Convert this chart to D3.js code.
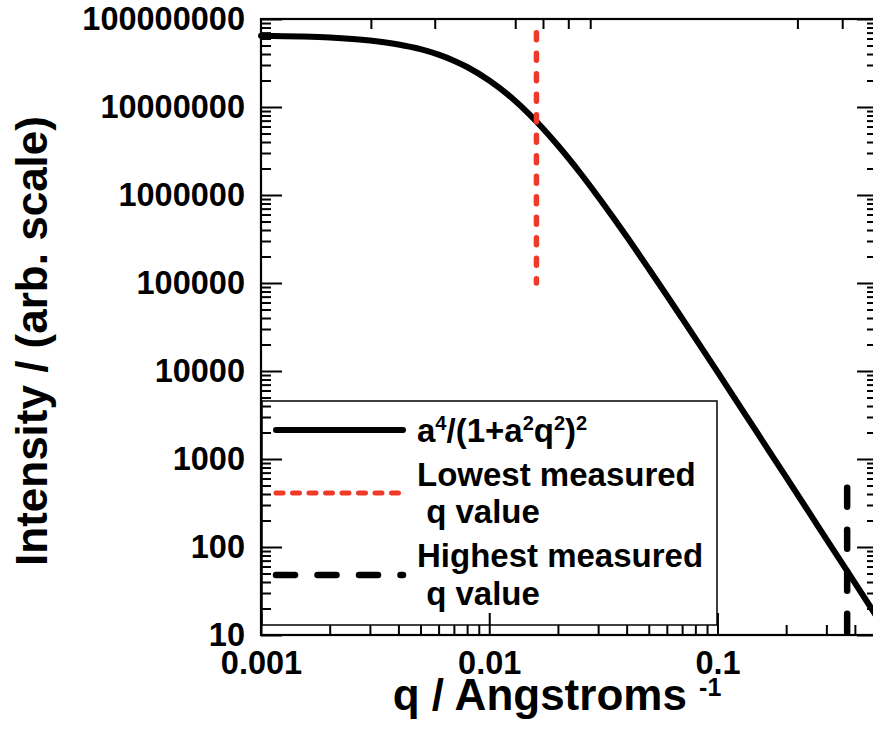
<!DOCTYPE html>
<html><head><meta charset="utf-8">
<script src="https://cdn.jsdelivr.net/npm/d3@7"></script>
<style>
body{margin:0;background:#fff}
text{font-family:"Liberation Sans",Arial,Helvetica,sans-serif;font-weight:bold;fill:#000}
</style>
</head><body>
<svg id="chart" width="873" height="736"></svg>
<script>
// ---- data ----
const qValues = [0.001, 0.0015, 0.002, 0.003, 0.004, 0.005, 0.006, 0.007, 0.008, 0.01, 0.012, 0.0125, 0.015, 0.02, 0.025, 0.03, 0.035, 0.04, 0.05, 0.06, 0.07, 0.08, 0.1, 0.12, 0.15, 0.2, 0.25, 0.3, 0.4, 0.5];
const intensityValues = [6.46e7, 6.33e7, 6.16e7, 5.70e7, 5.14e7, 4.54e7, 3.93e7, 3.36e7, 2.85e7, 2.00e7, 1.40e7, 1.28e7, 8.24e6, 3.65e6, 1.79e6, 9.55e5, 5.50e5, 3.37e5, 1.45e5, 7.21e4, 3.96e4, 2.35e4, 9760, 4740, 1950, 621, 255, 123, 39, 16];
const xMajorTicks = [0.001, 0.01, 0.1];
const xTickLabels = ["0.001", "0.01", "0.1"];
const yMajorTicks = [10, 100, 1000, 10000, 100000, 1000000, 10000000, 100000000];
const yTickLabels = ["10", "100", "1000", "10000", "100000", "1000000", "10000000", "100000000"];
const topTickValues = [0.00303, 0.00577, 0.0130, 0.0172, 0.0222, 0.0277, 0.224, 0.352];
const lowestQ = 0.0161;
const lowestRange = [1e5, 7e7];
const highestQ = 0.37;
const highestRange = [10, 470];
const xDomain = [0.001, 0.5];
const yDomain = [10, 1e8];

// ---- layout ----
const L = 261, R = 877, T = 19, B = 635;
const red = "#ef3a2a";
const svg = d3.select("#chart");
const x = d3.scaleLog().domain(xDomain).range([L, R]);
const y = d3.scaleLog().domain(yDomain).range([B, T]);

svg.append("defs").append("clipPath").attr("id", "clip")
  .append("rect").attr("x", L - 3).attr("y", T).attr("width", R - L + 3).attr("height", B - T);

// legend box (drawn first, axes ticks overlay it)
const lg = svg.append("g");
lg.append("rect").attr("x", 262).attr("y", 401).attr("width", 455).attr("height", 224)
  .attr("fill", "#fff").attr("stroke", "#000").attr("stroke-width", 1.5);

// curve
const line = d3.line().x((d, i) => x(qValues[i])).y(d => y(d)).curve(d3.curveMonotoneX);
svg.append("path").datum(intensityValues).attr("d", line)
  .attr("clip-path", "url(#clip)")
  .attr("fill", "none").attr("stroke", "#000").attr("stroke-width", 6).attr("stroke-linecap", "round");

// vertical markers
svg.append("line").attr("x1", x(lowestQ)).attr("x2", x(lowestQ))
  .attr("y1", y(lowestRange[1])).attr("y2", y(lowestRange[0]))
  .attr("stroke", red).attr("stroke-width", 5.5).attr("stroke-linecap", "round")
  .attr("stroke-dasharray", "7 13.5");
svg.append("line").attr("x1", x(highestQ)).attr("x2", x(highestQ))
  .attr("y1", y(highestRange[1])).attr("y2", y(highestRange[0]))
  .attr("stroke", "#000").attr("stroke-width", 6.5).attr("stroke-linecap", "round")
  .attr("stroke-dasharray", "19 23");

// legend contents
lg.append("line").attr("x1", 276).attr("x2", 403).attr("y1", 430).attr("y2", 430)
  .attr("stroke", "#000").attr("stroke-width", 6).attr("stroke-linecap", "round");
lg.append("line").attr("x1", 276).attr("x2", 403).attr("y1", 493).attr("y2", 493)
  .attr("stroke", red).attr("stroke-width", 5).attr("stroke-linecap", "round")
  .attr("stroke-dasharray", "7 9.5");
lg.append("line").attr("x1", 276).attr("x2", 403).attr("y1", 575).attr("y2", 575)
  .attr("stroke", "#000").attr("stroke-width", 6.5).attr("stroke-linecap", "round")
  .attr("stroke-dasharray", "19 22.5");

const fs = 33;
const t1 = lg.append("text").attr("x", 417).attr("y", 442).style("font-size", fs + "px");
t1.append("tspan").text("a");
t1.append("tspan").attr("dy", -12).style("font-size", "20px").text("4");
t1.append("tspan").attr("dy", 12).text("/(1+a");
t1.append("tspan").attr("dy", -12).style("font-size", "20px").text("2");
t1.append("tspan").attr("dy", 12).text("q");
t1.append("tspan").attr("dy", -12).style("font-size", "20px").text("2");
t1.append("tspan").attr("dy", 12).text(")");
t1.append("tspan").attr("dy", -12).style("font-size", "20px").text("2");
lg.append("text").attr("x", 417).attr("y", 486).style("font-size", fs + "px").text("Lowest measured");
lg.append("text").attr("x", 417).attr("y", 523).style("font-size", fs + "px").attr("xml:space", "preserve").text(" q value");
lg.append("text").attr("x", 417).attr("y", 567).style("font-size", fs + "px").text("Highest measured");
lg.append("text").attr("x", 417).attr("y", 605).style("font-size", fs + "px").attr("xml:space", "preserve").text(" q value");

// axes
const xMinor = x.ticks().filter(v => !xMajorTicks.some(m => Math.abs(m - v) / m < 1e-6));
const yMinor = y.ticks().filter(v => !yMajorTicks.some(m => Math.abs(m - v) / m < 1e-6));

function styleAxis(g) {
  g.select(".domain").remove();
  g.selectAll(".tick line").attr("stroke", "#000").attr("stroke-width", 2);
  g.selectAll("text").style("font-size", "32.5px").style("font-family", "'Liberation Sans',Arial,sans-serif").style("font-weight", "bold").attr("fill", "#000");
}
// bottom
svg.append("g").attr("transform", `translate(0,${B})`)
  .call(d3.axisBottom(x).tickValues(xMinor).tickSize(-10).tickFormat("")).call(styleAxis);
svg.append("g").attr("transform", `translate(0,${B})`)
  .call(d3.axisBottom(x).tickValues(xMajorTicks).tickSize(-22).tickPadding(16)
    .tickFormat((d, i) => xTickLabels[i])).call(styleAxis);
// top
svg.append("g").attr("transform", `translate(0,${T})`)
  .call(d3.axisTop(x).tickValues(topTickValues).tickSize(-10).tickFormat("")).call(styleAxis);
// left
svg.append("g").attr("transform", `translate(${L},0)`)
  .call(d3.axisLeft(y).tickValues(yMinor).tickSize(-10).tickFormat("")).call(styleAxis);
svg.append("g").attr("transform", `translate(${L},0)`)
  .call(d3.axisLeft(y).tickValues(yMajorTicks).tickSize(-21).tickPadding(16)
    .tickFormat((d, i) => yTickLabels[i])).call(styleAxis);
// right
svg.append("g").attr("transform", `translate(${R},0)`)
  .call(d3.axisRight(y).tickValues(yMinor).tickSize(-10).tickFormat("")).call(styleAxis);
svg.append("g").attr("transform", `translate(${R},0)`)
  .call(d3.axisRight(y).tickValues(yMajorTicks).tickSize(-20).tickFormat("")).call(styleAxis);

// frame
svg.append("rect").attr("x", L).attr("y", T).attr("width", R - L).attr("height", B - T)
  .attr("fill", "none").attr("stroke", "#000").attr("stroke-width", 2.2);

// axis titles
const xt = svg.append("text").attr("x", 557).attr("y", 710).attr("text-anchor", "middle")
  .style("font-size", "44px").attr("xml:space", "preserve");
xt.append("tspan").text("q / Angstroms ");
xt.append("tspan").attr("dy", -14).style("font-size", "25px").text("-1");

svg.append("text").attr("transform", "rotate(-90)").attr("x", -341).attr("y", 47)
  .attr("text-anchor", "middle").style("font-size", "44px").text("Intensity / (arb. scale)");
</script>
</body></html>
